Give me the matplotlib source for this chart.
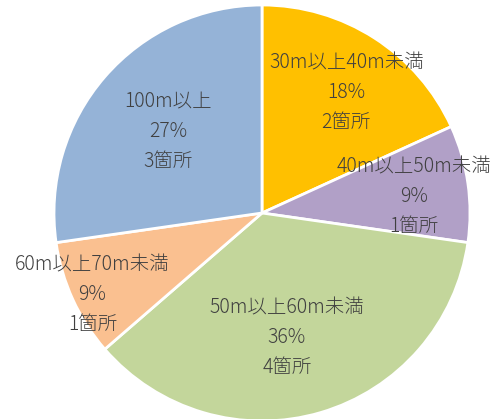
import matplotlib
matplotlib.use("Agg")
import matplotlib.pyplot as plt

plt.rcParams['font.family'] = ['Noto Sans CJK JP', 'DejaVu Sans']

categories = ["30m以上40m未満", "40m以上50m未満", "50m以上60m未満", "60m以上70m未満", "100m以上"]
counts = [2, 1, 4, 1, 3]
percents = ["18%", "9%", "36%", "9%", "27%"]
colors = ["#FFC000", "#B1A0C7", "#C3D69B", "#FAC090", "#95B3D7"]
label_pos = [(0.405, 0.58), (0.73, 0.077), (0.12, -0.60), (-0.815, -0.394), (-0.45, 0.39)]

fig = plt.figure(figsize=(5.0, 4.19), dpi=100)
R = 208
cx, cy = 262, 213
ax = fig.add_axes([(cx - R) / 500, (419 - (cy + R)) / 419, 2 * R / 500, 2 * R / 419])
ax.pie(counts, colors=colors, startangle=90, counterclock=False, radius=1,
       wedgeprops=dict(edgecolor="white", linewidth=2))
ax.set_xlim(-1, 1)
ax.set_ylim(-1, 1)
ax.set_aspect('auto')
ax.axis('off')

for cat, pct, n, (x, y) in zip(categories, percents, counts, label_pos):
    ax.text(x, y, f"{cat}\n{pct}\n{n}箇所", ha='center', va='center',
            fontsize=14, fontweight='light', color="#404040", linespacing=1.55)

fig.savefig("out.png", dpi=100)
